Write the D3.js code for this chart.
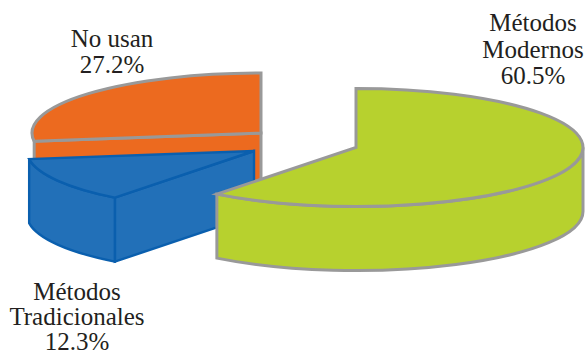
<!DOCTYPE html>
<html><head><meta charset="utf-8">
<script src="https://cdnjs.cloudflare.com/ajax/libs/d3/7.8.5/d3.min.js"></script>
<style>html,body{margin:0;padding:0;background:#fff}svg{display:block}text{font-family:"Liberation Serif",serif;font-size:25px;fill:#231f20;text-anchor:middle}</style>
</head><body><svg id="c" width="588" height="352"></svg>
<script>
const categories = ["Métodos Modernos","Métodos Tradicionales","No usan"];
const values = [60.5,12.3,27.2];
const labelLines = [["Métodos","Modernos","60.5%"],["Métodos","Tradicionales","12.3%"],["No usan","27.2%"]];
const fills = ["#b7d12e","#2270b8","#ec6a1f"];
const strokes = ["#999999","#0a5fae","#999999"];
const centers = [[356,147.5],[254,151],[261,133]];
const radii = [[227,59],[227,59],[229,60]];
const labelX = [533,77,112];
const labelY = [[31,58,84],[300,325,350],[47,73]];
const depth = 64;

const svg = d3.select("#c");
const arcs = d3.pie().sort(null).value(d=>d).startAngle(0).endAngle(2*Math.PI)(values);

function pt(i,a,dy=0){const [cx,cy]=centers[i],[rx,ry]=radii[i];
  return [cx+rx*Math.sin(a),cy-ry*Math.cos(a)+dy];}
function ell(i,a0,a1,dy=0,rev=false){
  const [rx,ry]=radii[i],[x,y]=pt(i,rev?a0:a1,dy);
  const large=Math.abs(a1-a0)>Math.PI?1:0;
  return `A${rx},${ry} 0 ${large} ${rev?0:1} ${x},${y}`;
}
function wallPath(i,a0,a1){const p=pt(i,a0),q=pt(i,a1,depth);
  return `M${p}${ell(i,a0,a1)}L${q}${ell(i,a0,a1,depth,true)}Z`;}
function topPath(i,a0,a1){return `M${centers[i]}L${pt(i,a0)}${ell(i,a0,a1)}Z`;}
function radialPath(i,a){const c=centers[i],p=pt(i,a);
  return `M${c}L${p}L${p[0]},${p[1]+depth}L${c[0]},${c[1]+depth}Z`;}

const order=[2,1,0];
order.forEach(i=>{
  const d=arcs[i], a0=d.startAngle, a1=d.endAngle;
  const g=svg.append("g").attr("fill",fills[i]).attr("stroke",strokes[i])
    .attr("stroke-width",i===1?2.4:3).attr("stroke-linejoin","miter");
  if(i===0){
    g.append("path").attr("d",wallPath(i,Math.PI/2,a1));
  } else if(i===1){
    g.append("path").attr("d",radialPath(i,a0));
    g.append("path").attr("d",wallPath(i,a0,a1));
  } else {
    g.append("path").attr("d",radialPath(i,a0));
  }
  g.append("path").attr("d",topPath(i,a0,a1));
});

labelLines.forEach((lines,i)=>{
  const t=svg.append("text").attr("x",labelX[i]);
  lines.forEach((s,j)=>t.append("tspan").attr("x",labelX[i]).attr("y",labelY[i][j]).text(s));
});
</script></body></html>
